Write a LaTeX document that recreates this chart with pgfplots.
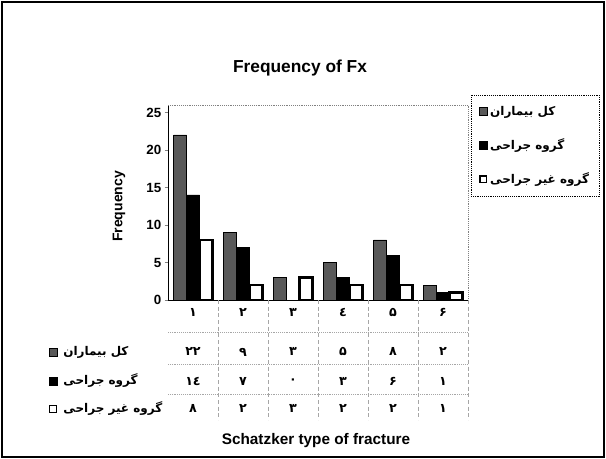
\documentclass[border=0pt]{standalone}
\usepackage{fontspec}
\setmainfont{Liberation Sans}
\newfontfamily\arabicfont[Script=Arabic]{DejaVu Sans}
\TeXXeTstate=1
\usepackage{pgfplots}
\pgfplotsset{compat=1.18}
\pgfplotsset{
  sqleg/.style={legend image code/.code={\draw[##1] (0pt,-3pt) rectangle (6pt,3pt);}},
  sqlegw/.style={legend image code/.code={\draw[##1,line width=1.2pt] (0.5pt,-2.5pt) rectangle (5.5pt,2.5pt);}},
}
\newcommand{\fa}[1]{{\arabicfont\bfseries\beginR #1\endR}}
\newcommand{\fd}[1]{{\arabicfont\bfseries #1}}
\begin{document}
\begin{tikzpicture}
\path (0,0) rectangle (454.5pt,-344.25pt);
\draw[line width=1.2pt] (1.5pt,-1.5pt) rectangle (453pt,-342.75pt);
\node[font=\bfseries\fontsize{13}{15}\selectfont] at (225pt,-51pt) {Frequency of Fx};
\begin{axis}[
  at={(126pt,-225pt)}, anchor=south west,
  scale only axis, width=225pt, height=146.25pt,
  xmin=0.5, xmax=6.5, ymin=0, ymax=26,
  ytick={0,5,...,25},
  xtick={1,...,6},
  xticklabels={\fd{۱},\fd{۲},\fd{۳},\fd{٤},\fd{۵},\fd{۶}},
  xticklabel style={yshift=0pt,font=\fontsize{9.5}{11}\selectfont},
  x tick style={draw=none},
  yticklabel style={font=\bfseries\fontsize{10}{12}\selectfont, xshift=1pt},
  /pgf/number format/assume math mode=true,
  tick align=outside, major tick length=2.5pt,
  axis x line*=bottom, axis y line*=left,
  ylabel={\bfseries Frequency},
  ylabel style={font=\fontsize{10.5}{12}\selectfont, at={(axis description cs:-0.163,0.48)}, anchor=center, rotate=0},
  ybar=0pt, bar width=9.75pt,
  clip=false,
  legend cell align=left,
  legend style={at={(rel axis cs:1.44,1.051)}, anchor=north east, draw=black, densely dotted,
    font=\fontsize{9}{11}\selectfont, row sep=12pt, inner sep=6pt,
    nodes={solid}},
]
\draw[densely dotted, gray] (rel axis cs:0,1) -- (rel axis cs:1,1) -- (rel axis cs:1,0);
\addplot[fill=black!65, draw=black, solid, sqleg]
  coordinates {(1,22) (2,9) (3,3) (4,5) (5,8) (6,2)};
\addplot[fill=black, draw=black, solid, sqleg]
  coordinates {(1,14) (2,7) (3,0) (4,3) (5,6) (6,1)};
\addplot[fill=white, draw=black, line width=1.6pt, solid, sqlegw]
  coordinates {(1,8) (2,2) (3,3) (4,2) (5,2) (6,1)};
\legend{\fa{کل بیماران},\fa{گروه جراحی},\fa{گروه غیر جراحی}}
% data table
\draw[densely dashed, gray!70] (axis cs:1.5,0) -- (axis cs:1.5,-16);
\draw[densely dashed, gray!70] (axis cs:2.5,0) -- (axis cs:2.5,-16);
\draw[densely dashed, gray!70] (axis cs:3.5,0) -- (axis cs:3.5,-16);
\draw[densely dashed, gray!70] (axis cs:4.5,0) -- (axis cs:4.5,-16);
\draw[densely dashed, gray!70] (axis cs:5.5,0) -- (axis cs:5.5,-16);
\draw[densely dashed, gray!70] (axis cs:6.5,0) -- (axis cs:6.5,-16);
\draw[densely dotted, gray!70] (axis cs:0.5,-4.27) -- (axis cs:6.5,-4.27);
\draw[densely dotted, gray!70] (axis cs:0.5,-8.53) -- (axis cs:6.5,-8.53);
\draw[densely dotted, gray!70] (axis cs:0.5,-12.53) -- (axis cs:6.5,-12.53);
\node[font=\fontsize{9.5}{11}\selectfont] at (axis cs:1,-6.93) {\fd{۲۲}};
\node[font=\fontsize{9.5}{11}\selectfont] at (axis cs:2,-6.93) {\fd{۹}};
\node[font=\fontsize{9.5}{11}\selectfont] at (axis cs:3,-6.93) {\fd{۳}};
\node[font=\fontsize{9.5}{11}\selectfont] at (axis cs:4,-6.93) {\fd{۵}};
\node[font=\fontsize{9.5}{11}\selectfont] at (axis cs:5,-6.93) {\fd{۸}};
\node[font=\fontsize{9.5}{11}\selectfont] at (axis cs:6,-6.93) {\fd{۲}};
\node[font=\fontsize{9.5}{11}\selectfont] at (axis cs:1,-10.8) {\fd{۱٤}};
\node[font=\fontsize{9.5}{11}\selectfont] at (axis cs:2,-10.8) {\fd{۷}};
\node[font=\fontsize{9.5}{11}\selectfont] at (axis cs:3,-10.8) {\fd{۰}};
\node[font=\fontsize{9.5}{11}\selectfont] at (axis cs:4,-10.8) {\fd{۳}};
\node[font=\fontsize{9.5}{11}\selectfont] at (axis cs:5,-10.8) {\fd{۶}};
\node[font=\fontsize{9.5}{11}\selectfont] at (axis cs:6,-10.8) {\fd{۱}};
\node[font=\fontsize{9.5}{11}\selectfont] at (axis cs:1,-14.53) {\fd{۸}};
\node[font=\fontsize{9.5}{11}\selectfont] at (axis cs:2,-14.53) {\fd{۲}};
\node[font=\fontsize{9.5}{11}\selectfont] at (axis cs:3,-14.53) {\fd{۳}};
\node[font=\fontsize{9.5}{11}\selectfont] at (axis cs:4,-14.53) {\fd{۲}};
\node[font=\fontsize{9.5}{11}\selectfont] at (axis cs:5,-14.53) {\fd{۲}};
\node[font=\fontsize{9.5}{11}\selectfont] at (axis cs:6,-14.53) {\fd{۱}};
\end{axis}
% row labels
\draw[fill=black!65] (36.75pt,-267pt) rectangle (42.75pt,-261pt);
\node[anchor=west, font=\fontsize{9}{11}\selectfont] at (44pt,-264pt) {\fa{کل بیماران}};
\draw[fill=black] (36.75pt,-288.75pt) rectangle (42.75pt,-282.75pt);
\node[anchor=west, font=\fontsize{9}{11}\selectfont] at (44pt,-285.75pt) {\fa{گروه جراحی}};
\draw[fill=white, line width=1.2pt] (37.25pt,-309.25pt) rectangle (42.25pt,-304.25pt);
\node[anchor=west, font=\fontsize{9}{11}\selectfont] at (44pt,-306.75pt) {\fa{گروه غیر جراحی}};
\node[font=\bfseries\fontsize{11.5}{13}\selectfont] at (237pt,-330.75pt) {Schatzker type of fracture};
\end{tikzpicture}
\end{document}
